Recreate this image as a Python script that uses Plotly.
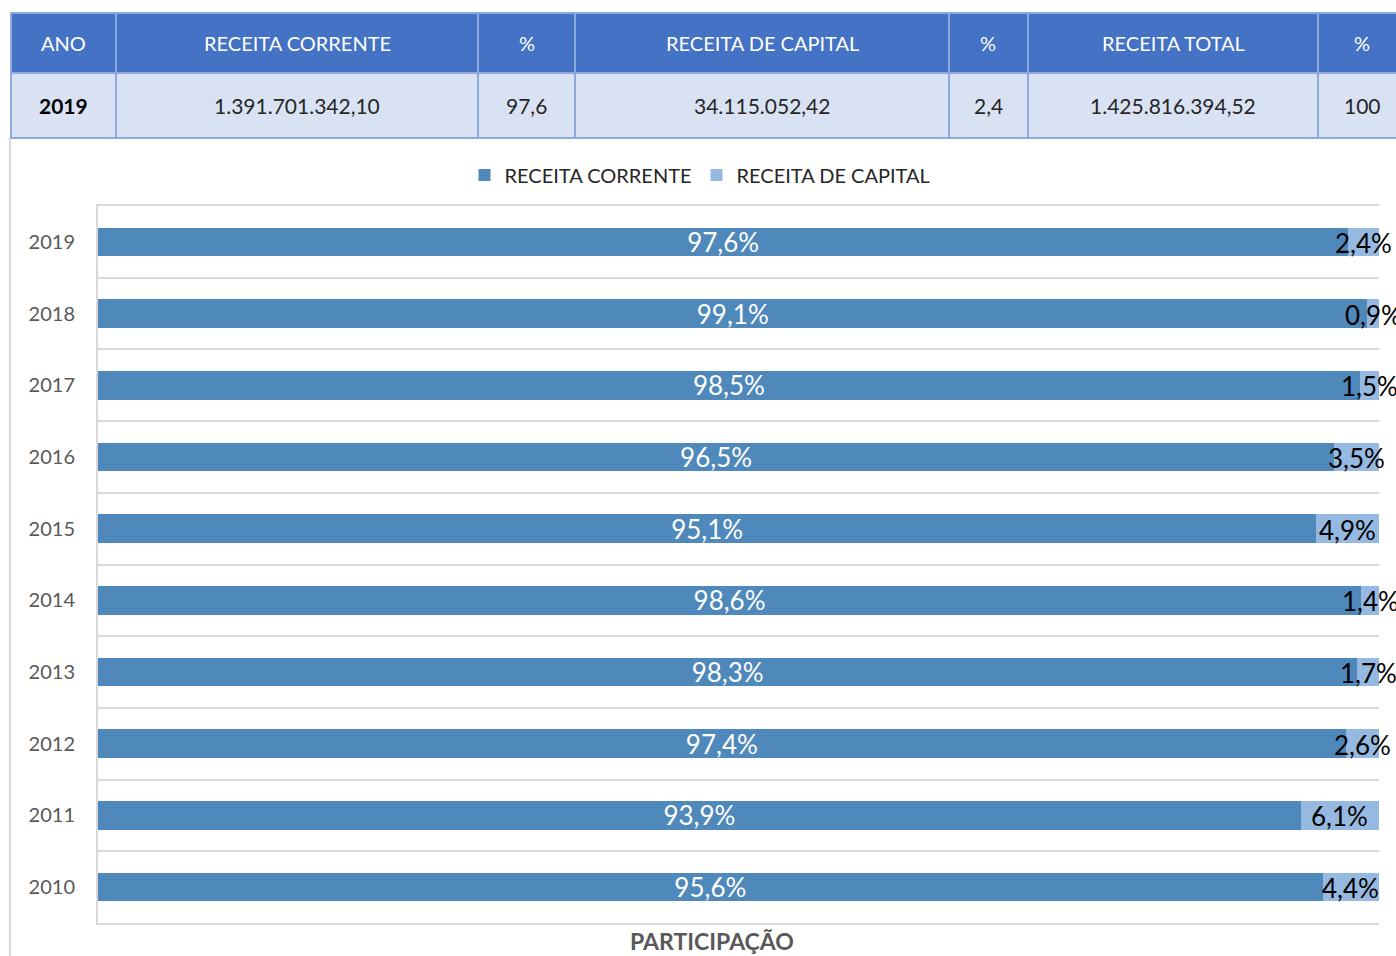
import plotly.graph_objects as go

# ---------------- data ----------------
years = ["2019", "2018", "2017", "2016", "2015", "2014", "2013", "2012", "2011", "2010"]
receita_corrente = [97.6, 99.1, 98.5, 96.5, 95.1, 98.6, 98.3, 97.4, 93.9, 95.6]
receita_capital = [2.4, 0.9, 1.5, 3.5, 4.9, 1.4, 1.7, 2.6, 6.1, 4.4]

table_header = ["ANO", "RECEITA CORRENTE", "%", "RECEITA DE CAPITAL", "%", "RECEITA TOTAL", "%"]
table_row = ["2019", "1.391.701.342,10", "97,6", "34.115.052,42", "2,4", "1.425.816.394,52", "100"]

series_names = ["RECEITA CORRENTE", "RECEITA DE CAPITAL"]
axis_title = "PARTICIPAÇÃO"

# ---------------- layout constants ----------------
W, H = 1396, 956
FONT = "Lato"
C_CORR = "#4F88BB"
C_CAP = "#95B9E1"
GRID = "#D9D9D9"


def px(x):
    return x / W


def py(y):
    return 1 - y / H


def pct(v):
    return f"{v:.1f}".replace(".", ",") + "%"


fig = go.Figure()

fig.add_trace(go.Bar(
    y=years, x=receita_corrente, orientation="h", name=series_names[0],
    marker=dict(color=C_CORR, line=dict(width=0)), width=0.4,
    text=[pct(v) for v in receita_corrente], textposition="inside",
    insidetextanchor="middle", constraintext="none",
    textfont=dict(family=FONT, size=26, color="white"),
))
fig.add_trace(go.Bar(
    y=years, x=receita_capital, orientation="h", name=series_names[1],
    marker=dict(color=C_CAP, line=dict(width=0)), width=0.4,
))

shapes = []
annotations = []

# capital labels centred on their (narrow) segments, allowed to overflow
for i, (c, k) in enumerate(zip(receita_corrente, receita_capital)):
    annotations.append(dict(xref="x", yref="y", x=c + k / 2, y=i, text=pct(k),
                            showarrow=False, xanchor="center", yanchor="middle", yshift=-1,
                            font=dict(family=FONT, size=26, color="black")))

# ---------------- table drawn with shapes ----------------
col_edges = [11, 116, 478, 575, 949, 1028, 1318, 1406]
row_edges = [13, 73, 138]
for r, (vals, fill) in enumerate([(table_header, "#4472C4"), (table_row, "#D9E2F3")]):
    y0, y1 = row_edges[r], row_edges[r + 1]
    for c, val in enumerate(vals):
        x0, x1 = col_edges[c], col_edges[c + 1]
        shapes.append(dict(type="rect", xref="paper", yref="paper",
                           x0=px(x0), x1=px(x1), y0=py(y1), y1=py(y0),
                           fillcolor=fill, line=dict(color="#8EAADB", width=2), layer="below"))
        if r == 0:
            txt, fnt = val, dict(family=FONT, size=20, color="white")
        else:
            if c == 0:
                txt, fnt = f"<b>{val}</b>", dict(family=FONT, size=21, color="black")
            else:
                txt, fnt = val, dict(family=FONT, size=21, color="#262626")
        annotations.append(dict(xref="paper", yref="paper", x=px((x0 + x1) / 2), y=py((y0 + y1) / 2),
                                text=txt, showarrow=False, font=fnt,
                                xanchor="center", yanchor="middle"))

# chart frame left line
shapes.append(dict(type="line", xref="paper", yref="paper", x0=px(10), x1=px(10),
                   y0=0, y1=py(138), line=dict(color=GRID, width=2)))

annotations.append(dict(xref="paper", yref="paper", x=px(712), y=py(941), text=f"<b>{axis_title}</b>",
                        showarrow=False, font=dict(family=FONT, size=23, color="#595959"),
                        xanchor="center", yanchor="middle"))

fig.update_layout(
    width=W, height=H, margin=dict(l=0, r=0, t=0, b=0),
    paper_bgcolor="white", plot_bgcolor="white",
    barmode="stack", bargap=0.6,
    font=dict(family=FONT),
    shapes=shapes, annotations=annotations,
    legend=dict(orientation="h", x=px(700), xanchor="center", y=py(175), yanchor="middle",
                font=dict(family=FONT, size=20, color="#262626"), traceorder="normal",
                itemwidth=30, bgcolor="rgba(0,0,0,0)"),
    xaxis=dict(domain=[px(98), px(1379)], range=[0, 100], showticklabels=False,
               showgrid=False, zeroline=False, showline=True, mirror=True,
               linecolor=GRID, linewidth=2, fixedrange=True),
    yaxis=dict(domain=[py(923), py(206)], type="category",
               categoryorder="array", categoryarray=years,
               range=[len(years) - 0.5, -0.5], autorange=False,
               tickson="boundaries", showgrid=True, gridcolor=GRID, gridwidth=2,
               showline=True, linecolor=GRID, linewidth=2, ticks="",
               tickfont=dict(family=FONT, size=20, color="#595959"), ticklabelstandoff=17,
               automargin=False),
)

fig.write_html("out.html")
